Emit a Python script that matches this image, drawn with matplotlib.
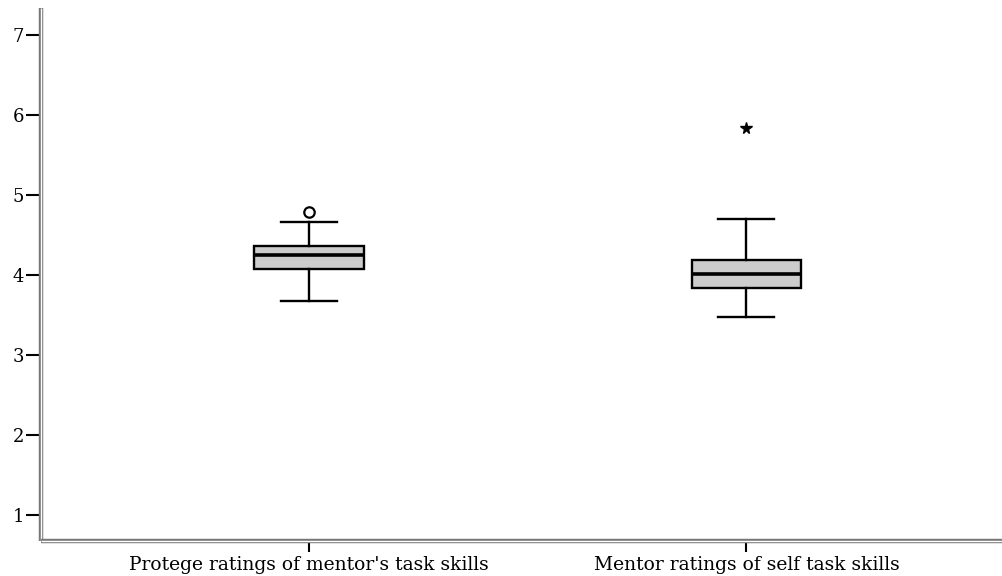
import matplotlib
matplotlib.use("Agg")
import matplotlib.pyplot as plt
from matplotlib.lines import Line2D

categories = ["Protege ratings of mentor's task skills", "Mentor ratings of self task skills"]
whislo = [3.675, 3.475]
q1 = [4.075, 3.84]
med = [4.25, 4.01]
q3 = [4.36, 4.19]
whishi = [4.66, 4.70]
outliers = [[4.79], []]
extremes = [[], [5.84]]
yticks = [1, 2, 3, 4, 5, 6, 7]

plt.rcParams['font.family'] = ['DejaVu Serif']

fig = plt.figure(figsize=(10.03, 5.76), dpi=100)
ax = fig.add_axes([41/1003, 35/576, 961/1003, 533/576])

stats = []
for i, c in enumerate(categories):
    stats.append(dict(label=c, whislo=whislo[i], q1=q1[i], med=med[i], q3=q3[i],
                      whishi=whishi[i], fliers=outliers[i]))

pos = [1, 2]
ax.bxp(stats, positions=pos, widths=0.251, patch_artist=True, showfliers=True,
       boxprops=dict(facecolor='#cccccc', edgecolor='black', linewidth=1.7),
       medianprops=dict(color='black', linewidth=2.6),
       whiskerprops=dict(color='black', linewidth=1.7),
       capprops=dict(color='black', linewidth=1.7),
       capwidths=0.128,
       flierprops=dict(marker='o', markerfacecolor='white', markeredgecolor='black',
                       markersize=7.5, markeredgewidth=1.6))
for i, ex in enumerate(extremes):
    for v in ex:
        ax.plot([pos[i]], [v], marker='*', color='black', markersize=8.5, linestyle='none')

ax.set_xlim(0.388, 2.584)
ax.set_ylim(0.675, 7.34)
ax.set_yticks(yticks)
ax.set_xticks(pos)
ax.set_xticklabels(categories)

for s in ax.spines.values():
    s.set_visible(False)

# double-line axes
for (xs, ys) in [([0, 0], [0, 1]), ([0, 1], [0, 0])]:
    ax.add_line(Line2D(xs, ys, transform=ax.transAxes, color='#777777', lw=3.2, clip_on=False,
                       solid_capstyle='butt'))
    ax.add_line(Line2D(xs, ys, transform=ax.transAxes, color='white', lw=1.0, clip_on=False,
                       solid_capstyle='butt'))

ax.tick_params(axis='y', direction='out', length=11, width=1.5, color='black', labelsize=13, pad=1)
ax.tick_params(axis='x', direction='out', length=8, width=1.5, color='black', labelsize=13.5, pad=3)

fig.savefig("out.png", dpi=100)
